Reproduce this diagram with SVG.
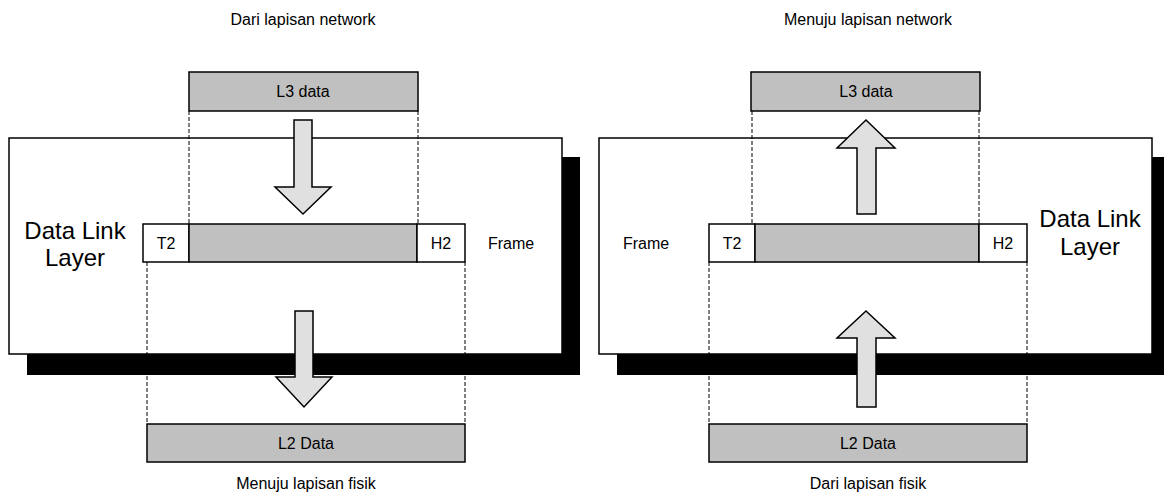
<svg xmlns="http://www.w3.org/2000/svg" width="1164" height="497" viewBox="0 0 1164 497">
<defs>
<style>
.t{font-family:"Liberation Sans",Arial,sans-serif;fill:#000;text-anchor:middle}
.s{font-size:16px}
.b{font-size:24px}
.box{fill:#fff;stroke:#000;stroke-width:1.5}
.gray{fill:#c0c0c0;stroke:#000;stroke-width:1.5}
.wh{fill:#fff;stroke:#000;stroke-width:1.5}
.dash{stroke:#000;stroke-width:1;stroke-dasharray:4,2;fill:none}
.arr{fill:#e0e0e0;stroke:#000;stroke-width:1.5}
</style>
</defs>
<rect width="1164" height="497" fill="#fff"/>
<!-- Left panel -->
<g id="left-layer">
<rect x="27" y="157" width="553" height="218" fill="#000"/>
<rect class="box" x="9" y="138" width="553" height="216"/>
<text class="t b" x="75" y="239">Data Link</text>
<text class="t b" x="75" y="266">Layer</text>
</g>
<text class="t s" x="303" y="25">Dari lapisan network</text>
<g id="left-l3">
<rect class="gray" x="189" y="72" width="229" height="39"/>
<text class="t s" x="303" y="97">L3 data</text>
</g>
<g id="left-frame">
<rect class="wh" x="143" y="224" width="46" height="38"/>
<rect class="gray" x="189" y="224" width="228" height="38"/>
<rect class="wh" x="417" y="224" width="48" height="38"/>
<text class="t s" x="166" y="249">T2</text>
<text class="t s" x="441" y="249">H2</text>
<text class="t s" x="511" y="249">Frame</text>
</g>
<g id="left-l2">
<rect class="gray" x="147" y="424" width="318" height="38"/>
<text class="t s" x="306" y="449">L2 Data</text>
</g>
<text class="t s" x="306" y="489">Menuju lapisan fisik</text>
<!-- Right panel -->
<g id="right-layer">
<rect x="617" y="157" width="553" height="218" fill="#000"/>
<rect class="box" x="599" y="138" width="553" height="216"/>
<text class="t b" x="1090" y="227">Data Link</text>
<text class="t b" x="1090" y="255">Layer</text>
</g>
<text class="t s" x="868" y="25">Menuju lapisan network</text>
<g id="right-l3">
<rect class="gray" x="751" y="72" width="229" height="39"/>
<text class="t s" x="866" y="97">L3 data</text>
</g>
<g id="right-frame">
<rect class="wh" x="709" y="224" width="46" height="38"/>
<rect class="gray" x="755" y="224" width="224" height="38"/>
<rect class="wh" x="979" y="224" width="48" height="38"/>
<text class="t s" x="732" y="249">T2</text>
<text class="t s" x="1003" y="249">H2</text>
<text class="t s" x="646" y="249">Frame</text>
</g>
<g id="right-l2">
<rect class="gray" x="709" y="424" width="318" height="38"/>
<text class="t s" x="868" y="449">L2 Data</text>
</g>
<text class="t s" x="868" y="489">Dari lapisan fisik</text>
<!-- Connectors -->
<g id="connectors">
<line class="dash" x1="189" y1="111" x2="189" y2="224"/>
<line class="dash" x1="418" y1="111" x2="418" y2="224"/>
<line class="dash" x1="147" y1="262" x2="147" y2="424"/>
<line class="dash" x1="465" y1="262" x2="465" y2="424"/>
<line class="dash" x1="752" y1="111" x2="752" y2="224"/>
<line class="dash" x1="979" y1="111" x2="979" y2="224"/>
<line class="dash" x1="709" y1="262" x2="709" y2="424"/>
<line class="dash" x1="1027" y1="262" x2="1027" y2="424"/>
<path class="arr" d="M294,120 H312 V187 H331 L303,214 L275,187 H294 Z"/>
<path class="arr" d="M295,311 H313 V377 H332 L304,407 L276,377 H295 Z"/>
<path class="arr" d="M857,214 H876 V148 H895 L866,120 L837,148 H857 Z"/>
<path class="arr" d="M857,407 H876 V338 H895 L866,311 L837,338 H857 Z"/>
</g>
</svg>
